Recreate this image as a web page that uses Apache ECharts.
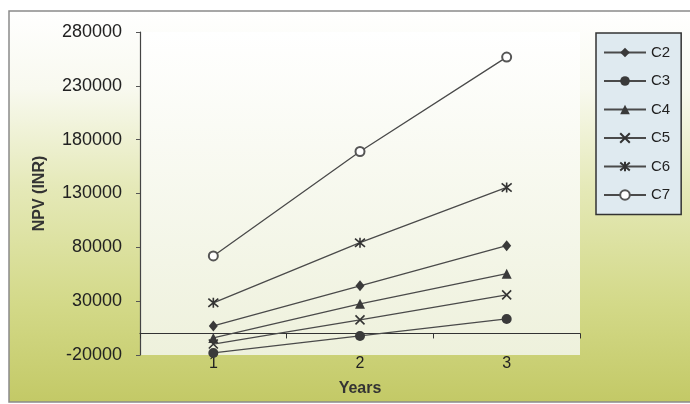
<!DOCTYPE html>
<html>
<head>
<meta charset="utf-8">
<script src="https://cdn.jsdelivr.net/npm/echarts@6/dist/echarts.min.js"></script>
<style>
  html, body { margin: 0; padding: 0; background: #fff; }
  #chart { width: 690px; height: 404px; }
</style>
</head>
<body>
<div id="chart"></div>
<script>
var years = ['1', '2', '3'];
var yTicks = [-20000, 30000, 80000, 130000, 180000, 230000, 280000];

var c2 = [7000, 44300, 81500];
var c3 = [-18100, -2300, 13500];
var c4 = [-4200, 27500, 55500];
var c5 = [-9800, 12600, 35900];
var c6 = [28500, 84300, 135600];
var c7 = [72000, 169000, 256700];

var xPath = 'path://M0,0L10,10M10,0L0,10';
var starPath = 'path://M0,0L10,10M10,0L0,10M5,-1L5,11';

function npvLine(name, data, symbol, size, extra) {
    var s = {
        name: name,
        type: 'line',
        data: data,
        symbol: symbol,
        symbolSize: size,
        lineStyle: { color: '#4a4a4a', width: 1.3 },
        itemStyle: { color: '#3a3a3a', borderColor: '#333', borderWidth: 0 },
        emphasis: { disabled: true }
    };
    if (extra) {
        s.itemStyle = extra;
    }
    return s;
}

var font = 'Liberation Sans, Arial, sans-serif';

var option = {
    animation: false,
    backgroundColor: '#ffffff',
    graphic: [{
        type: 'rect',
        z: -100,
        shape: { x: 9, y: 11, width: 700, height: 391 },
        style: {
            fill: new echarts.graphic.LinearGradient(0, 0, 0, 1, [
                { offset: 0, color: '#ffffff' },
                { offset: 0.2, color: '#f8f9ef' },
                { offset: 0.45, color: '#e5e9b8' },
                { offset: 0.75, color: '#d3d988' },
                { offset: 1, color: '#c3c966' }
            ]),
            stroke: '#8a8a8a',
            lineWidth: 1.5
        }
    }],
    grid: {
        left: 140, right: 110, top: 32, bottom: 49,
        show: true,
        borderWidth: 0,
        backgroundColor: new echarts.graphic.LinearGradient(0, 0, 0, 1, [
            { offset: 0, color: '#ffffff' },
            { offset: 1, color: '#eef1dc' }
        ])
    },
    legend: {
        orient: 'vertical',
        left: 596,
        top: 33,
        itemWidth: 42,
        itemHeight: 12,
        itemGap: 13.5,
        padding: [12, 11, 12, 7],
        backgroundColor: '#dfeaf0',
        borderColor: '#333',
        borderWidth: 1.5,
        textStyle: { fontSize: 15, color: '#222', fontFamily: font },
        data: ['C2', 'C3', 'C4', 'C5', 'C6', 'C7']
    },
    xAxis: [{
        type: 'category',
        data: years,
        position: 'bottom',
        boundaryGap: true,
        axisLine: { show: false, onZero: false },
        axisTick: { show: false },
        axisLabel: { fontSize: 16, color: '#222', margin: 1, fontFamily: font },
        name: 'Years',
        nameLocation: 'middle',
        nameGap: 26,
        nameTextStyle: { fontSize: 16, fontWeight: 'bold', color: '#333', fontFamily: font }
    }, {
        type: 'category',
        data: years,
        position: 'bottom',
        boundaryGap: true,
        axisLine: { show: true, onZero: true, lineStyle: { color: '#333', width: 1.2 } },
        axisTick: { show: true, length: 5, lineStyle: { color: '#333' } },
        axisLabel: { show: false }
    }],
    yAxis: {
        type: 'value',
        min: -20000,
        max: 280000,
        splitLine: { show: false },
        axisLine: { show: true, lineStyle: { color: '#444', width: 1.2 } },
        axisTick: { show: true, length: 4, customValues: yTicks, lineStyle: { color: '#555' } },
        axisLabel: {
            customValues: yTicks,
            formatter: function (v) { return String(v); },
            fontSize: 18, color: '#222', margin: 18, fontFamily: font
        },
        name: 'NPV (INR)',
        nameLocation: 'middle',
        nameRotate: 90,
        nameGap: 92,
        nameTextStyle: { fontSize: 16, fontWeight: 'bold', color: '#333', fontFamily: font }
    },
    series: [
        npvLine('C2', c2, 'diamond', [9, 11]),
        npvLine('C3', c3, 'circle', 10),
        npvLine('C4', c4, 'triangle', 10),
        npvLine('C5', c5, xPath, 9, { color: 'rgba(0,0,0,0)', borderColor: '#333', borderWidth: 1.6 }),
        npvLine('C6', c6, starPath, 10, { color: 'rgba(0,0,0,0)', borderColor: '#333', borderWidth: 1.6 }),
        npvLine('C7', c7, 'emptyCircle', 9, { color: '#555', borderColor: '#555', borderWidth: 1.4 })
    ]
};

echarts.init(document.getElementById('chart')).setOption(option);
</script>
</body>
</html>
